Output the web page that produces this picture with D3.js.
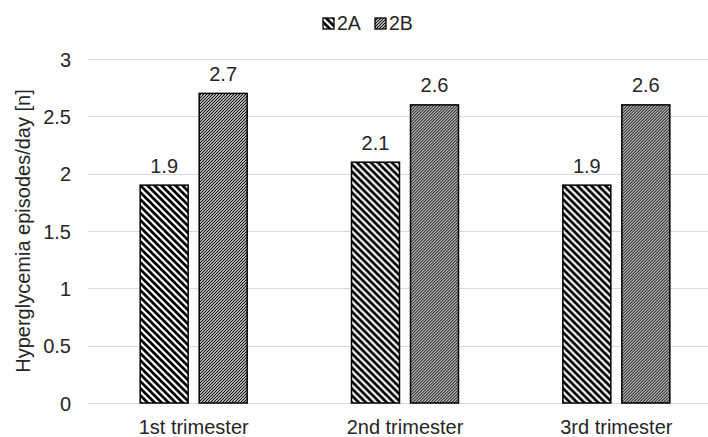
<!DOCTYPE html>
<html>
<head>
<meta charset="utf-8">
<script src="https://cdn.jsdelivr.net/npm/d3@7"></script>
<style>
  html, body { margin: 0; padding: 0; background: #fff; }
  svg { display: block; }
  text { font-family: "Liberation Sans", Arial, sans-serif; fill: #262626; }
</style>
</head>
<body>
<svg id="chart" width="708" height="437"></svg>
<script>
const categories = ["1st trimester", "2nd trimester", "3rd trimester"];
const seriesNames = ["2A", "2B"];
const valuesA = [1.9, 2.1, 1.9];
const valuesB = [2.7, 2.6, 2.6];
const yTicks = [0, 0.5, 1, 1.5, 2, 2.5, 3];
const yTitle = "Hyperglycemia episodes/day [n]";

const W = 708, H = 437;
const plot = { left: 88, right: 722, top: 59, bottom: 403 };
const svg = d3.select("#chart");

// patterns
const defs = svg.append("defs");
const pA = defs.append("pattern").attr("id", "patA").attr("patternUnits", "userSpaceOnUse")
  .attr("width", 7).attr("height", 7);
pA.append("rect").attr("width", 7).attr("height", 7).attr("fill", "#fff");
pA.append("path").attr("d", "M-1,-1 L8,8 M-1,6 L1,8 M6,-1 L8,1")
  .attr("stroke", "#000").attr("stroke-width", 2.7);
const pB = defs.append("pattern").attr("id", "patB").attr("patternUnits", "userSpaceOnUse")
  .attr("width", 3).attr("height", 3);
pB.append("rect").attr("width", 3).attr("height", 3).attr("fill", "#fff");
pB.append("path").attr("d", "M-1,4 L4,-1 M-1,1 L1,-1 M2,4 L4,2")
  .attr("stroke", "#000").attr("stroke-width", 1.2);
const fills = ["url(#patA)", "url(#patB)"];

const y = d3.scaleLinear().domain([0, 3]).range([plot.bottom, plot.top]);
const x0 = d3.scaleBand().domain(categories).range([plot.left, plot.right]);
const groupW = 107;
const x1 = d3.scaleBand().domain(seriesNames)
  .range([(x0.bandwidth() - groupW) / 2, (x0.bandwidth() + groupW) / 2])
  .paddingInner(11 / 59).paddingOuter(0);

// gridlines
svg.append("g").selectAll("line").data(yTicks).join("line")
  .attr("x1", plot.left).attr("x2", plot.right)
  .attr("y1", d => Math.round(y(d)) + 0.5).attr("y2", d => Math.round(y(d)) + 0.5)
  .attr("stroke", "#d9d9d9").attr("stroke-width", 1);

// y axis labels
const yAxis = d3.axisLeft(y).tickValues(yTicks).tickSize(0).tickPadding(0).tickFormat(d3.format("~g"));
const gy = svg.append("g").attr("transform", `translate(71,0)`).call(yAxis);
gy.select(".domain").remove();
gy.selectAll("text").attr("font-size", "20px").attr("fill", "#262626")
  .attr("font-family", "'Liberation Sans', Arial, sans-serif").attr("dy", "0.36em");

// x axis labels
const xAxis = d3.axisBottom(x0).tickSize(0).tickPadding(0);
const gx = svg.append("g").attr("transform", `translate(0,${plot.bottom})`).call(xAxis);
gx.select(".domain").remove();
gx.selectAll("text").attr("font-size", "20px").attr("fill", "#262626")
  .attr("font-family", "'Liberation Sans', Arial, sans-serif").attr("dy", "31px");

// bars
const data = categories.map((c, i) => ({ cat: c, vals: [
  { s: "2A", v: valuesA[i], k: 0 }, { s: "2B", v: valuesB[i], k: 1 }] }));
const groups = svg.append("g").selectAll("g").data(data).join("g")
  .attr("transform", d => `translate(${x0(d.cat)},0)`);
groups.selectAll("rect").data(d => d.vals).join("rect")
  .attr("x", d => x1(d.s)).attr("width", x1.bandwidth())
  .attr("y", d => y(d.v)).attr("height", d => y(0) - y(d.v))
  .attr("fill", d => fills[d.k]).attr("stroke", "#000").attr("stroke-width", 1.5);
groups.selectAll("text.lbl").data(d => d.vals).join("text").attr("class", "lbl")
  .attr("x", d => x1(d.s) + x1.bandwidth() / 2).attr("y", d => y(d.v) - 12.5)
  .attr("text-anchor", "middle").attr("font-size", "20px")
  .text(d => d3.format(".1f")(d.v));

// y title
svg.append("text").attr("transform", `translate(30,${(plot.top + plot.bottom) / 2}) rotate(-90)`)
  .attr("text-anchor", "middle").attr("font-size", "20px").text(yTitle);

// legend
const legend = svg.append("g");
const legX = [323, 375];
seriesNames.forEach((s, i) => {
  legend.append("rect").attr("x", legX[i]).attr("y", 18).attr("width", 11).attr("height", 11)
    .attr("fill", fills[i]).attr("stroke", "#000").attr("stroke-width", 1.3);
  legend.append("text").attr("x", legX[i] + 14).attr("y", 30).attr("font-size", "19.5px").text(s);
});
</script>
</body>
</html>
